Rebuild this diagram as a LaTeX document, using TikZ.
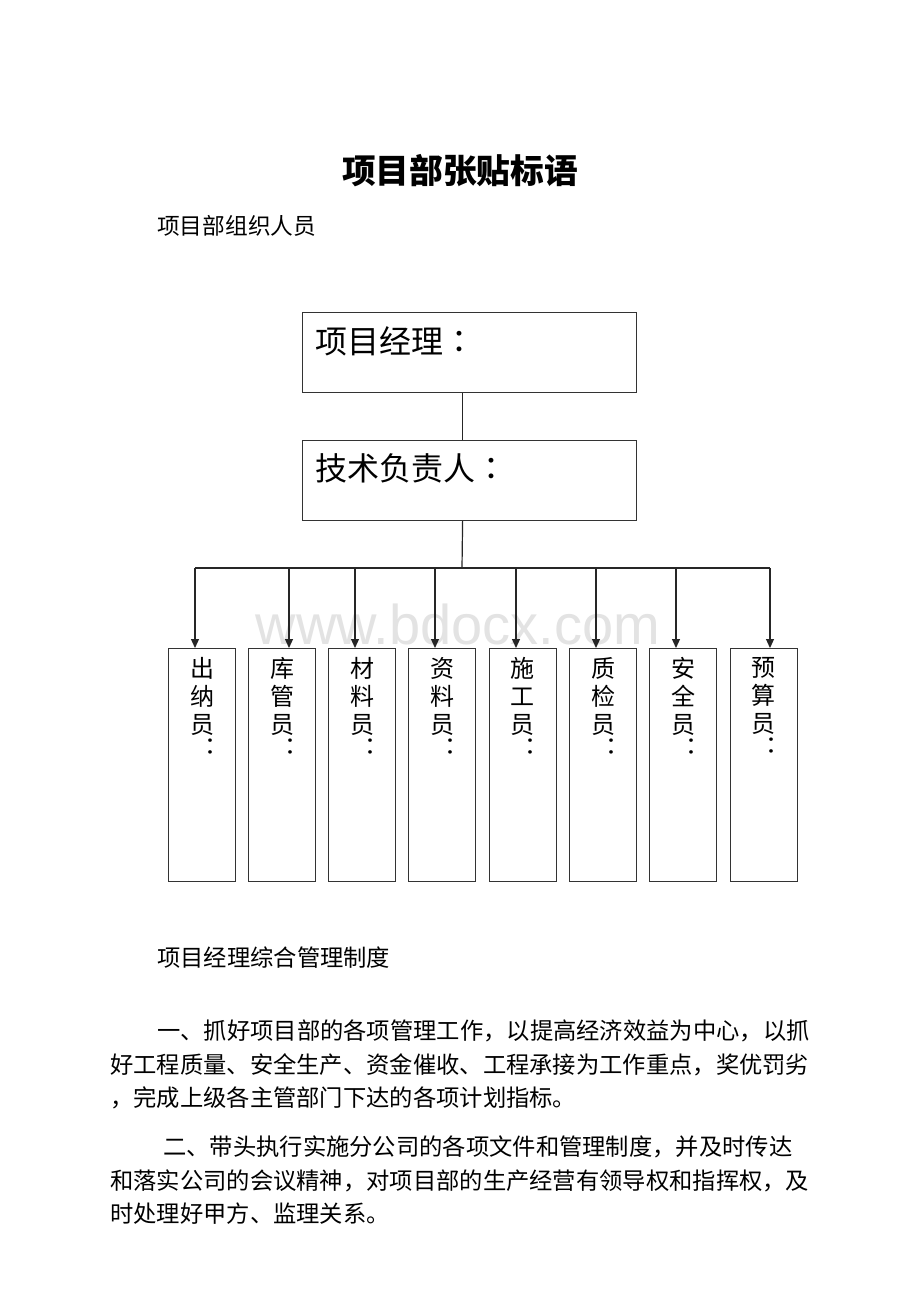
\documentclass[tikz,border=0pt]{standalone}
\usepackage{fontspec}
\newfontfamily\cjk{Noto Sans CJK SC}
\newfontfamily\cjkjp{Noto Sans CJK JP}
\newfontfamily\wmfont{Liberation Sans}
\usetikzlibrary{arrows.meta}
\begin{document}
\begin{tikzpicture}[x=1pt,y=-1pt,
  frame/.style={draw=black!80, line width=1.2pt, inner sep=0pt, anchor=north west},
  topbox/.style={frame, minimum width=334pt, minimum height=80pt},
  rolebox/.style={frame, minimum width=67pt, minimum height=233pt},
  link/.style={draw=black!85, line width=1.2pt},
  arr/.style={link, -{Triangle[length=9pt,width=8pt]}},
  toptext/.style={inner sep=0pt, anchor=base west, font=\fontsize{32}{36}\selectfont\cjk},
  vlab/.style={inner sep=0pt, anchor=north, align=center, font=\fontsize{24}{28}\selectfont\cjk},
  body/.style={inner sep=0pt, anchor=base west, font=\fontsize{23.3}{28}\selectfont\cjk},
  wm/.style={inner sep=0pt, text=black!11, font=\fontsize{56}{60}\selectfont\wmfont}
]
\fill[white] (0,0) rectangle (920,1302);
\useasboundingbox (0,0) rectangle (920,1302);

% watermark
\node[wm] (wmark) at (458,624) {www.bdocx.com};

% title and heading
\node[inner sep=0pt, anchor=base, font=\fontsize{33.7}{38}\selectfont\cjk\bfseries] (title) at (460,183) {项目部张贴标语};
\node[inner sep=0pt, anchor=base west, font=\fontsize{22.7}{27}\selectfont\cjk] (sub) at (157,234) {项目部组织人员};

% top boxes
\node[topbox] (pm) at (302,312) {};
\node[topbox] (tl) at (302,440) {};
\node[toptext] (pmt) at (315,353) {项目经理{\cjkjp ：}};
\node[toptext] (tlt) at (315,480) {技术负责人{\cjkjp ：}};

\draw[link] ([xshift=-7pt]pm.south) -- ([xshift=-7pt]tl.north);
\coordinate (hub) at (462,568);
\draw[link] ([xshift=-7pt]tl.south) -- (hub);
\coordinate (a1) at (195,568);
\coordinate (a2) at (289,568);
\coordinate (a3) at (355,568);
\coordinate (a4) at (435,568);
\coordinate (a5) at (516,568);
\coordinate (a6) at (596,568);
\coordinate (a7) at (676,568);
\coordinate (a8) at (770,568);
\draw[link] (a1) -- (a8);

% role boxes
\node[rolebox] (b1) at (168,648) {};
\node[rolebox] (b2) at (248,648) {};
\node[rolebox] (b3) at (328,648) {};
\node[rolebox] (b4) at (408,648) {};
\node[rolebox] (b5) at (488.5,648) {};
\node[rolebox] (b6) at (569,648) {};
\node[rolebox] (b7) at (649,648) {};
\node[rolebox] (b8) at (729.5,648) {};

\foreach \i in {1,...,8}{
  \draw[arr] (a\i) -- (a\i |- b\i.north);
}

\node[vlab] (l1) at ([yshift=-9pt]b1.north) {出\\纳\\员\\[-6pt]\hspace*{16pt}{\cjkjp ：}};
\node[vlab] (l2) at ([yshift=-9pt]b2.north) {库\\管\\员\\[-6pt]\hspace*{16pt}{\cjkjp ：}};
\node[vlab] (l3) at ([yshift=-9pt]b3.north) {材\\料\\员\\[-6pt]\hspace*{16pt}{\cjkjp ：}};
\node[vlab] (l4) at ([yshift=-9pt]b4.north) {资\\料\\员\\[-6pt]\hspace*{16pt}{\cjkjp ：}};
\node[vlab] (l5) at ([yshift=-9pt]b5.north) {施\\工\\员\\[-6pt]\hspace*{16pt}{\cjkjp ：}};
\node[vlab] (l6) at ([yshift=-9pt]b6.north) {质\\检\\员\\[-6pt]\hspace*{16pt}{\cjkjp ：}};
\node[vlab] (l7) at ([yshift=-9pt]b7.north) {安\\全\\员\\[-6pt]\hspace*{16pt}{\cjkjp ：}};
\node[vlab] (l8) at ([yshift=-9pt]b8.north) {预\\算\\员\\[-6pt]\hspace*{16pt}{\cjkjp ：}};

% body text
\node[body] (p0) at (157,966) {项目经理综合管理制度};
\node[body] (p1a) at (157,1039) {一、抓好项目部的各项管理工作，以提高经济效益为中心，以抓};
\node[body] (p1b) at (110,1073) {好工程质量、安全生产、资金催收、工程承接为工作重点，奖优罚劣};
\node[body] (p1c) at (110,1106) {，完成上级各主管部门下达的各项计划指标。};
\node[body] (p2a) at (163,1155) {二、带头执行实施分公司的各项文件和管理制度，并及时传达};
\node[body] (p2b) at (110,1189) {和落实公司的会议精神，对项目部的生产经营有领导权和指挥权，及};
\node[body] (p2c) at (110,1222) {时处理好甲方、监理关系。};
\end{tikzpicture}
\end{document}
